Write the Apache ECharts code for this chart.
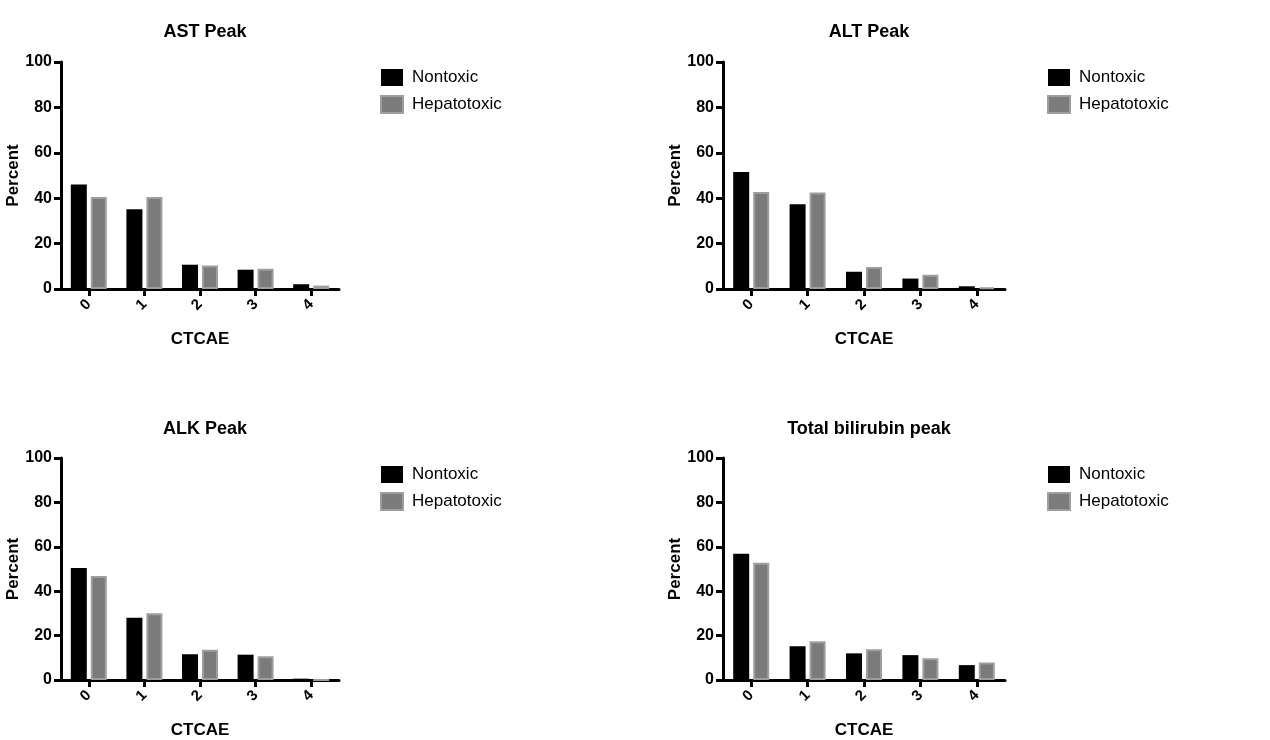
<!DOCTYPE html>
<html>
<head>
<meta charset="utf-8">
<script src="https://cdn.jsdelivr.net/npm/echarts@6/dist/echarts.min.js"></script>
<style>
html,body{margin:0;padding:0;background:#fff;}
#chart{width:1270px;height:740px;}
</style>
</head>
<body>
<div id="chart"></div>
<script>
// ---- data ----
const categories = ['0', '1', '2', '3', '4'];
const seriesNames = ['Nontoxic', 'Hepatotoxic'];
const panelTitles = ['AST Peak', 'ALT Peak', 'ALK Peak', 'Total bilirubin peak'];
const yTicks = [0, 20, 40, 60, 80, 100];

const astNontoxic = [46.0, 35.1, 10.7, 8.5, 2.1];
const astHepatotoxic = [40.5, 40.5, 10.3, 8.9, 1.5];
const altNontoxic = [51.5, 37.3, 7.6, 4.6, 1.2];
const altHepatotoxic = [42.7, 42.5, 9.7, 6.3, 0.7];
const alkNontoxic = [50.5, 28.0, 11.6, 11.4, 0.6];
const alkHepatotoxic = [46.8, 30.1, 13.6, 10.7, 0];
const biliNontoxic = [56.9, 15.2, 12.0, 11.2, 6.7];
const biliHepatotoxic = [52.8, 17.5, 13.8, 9.8, 7.9];

const panelData = [
  [astNontoxic, astHepatotoxic],
  [altNontoxic, altHepatotoxic],
  [alkNontoxic, alkHepatotoxic],
  [biliNontoxic, biliHepatotoxic]
];

// ---- layout ----
const FONT = '"Liberation Sans", Arial, Helvetica, sans-serif';
const grids = [
  {left: 61, top: 62, width: 278, height: 227},
  {left: 723, top: 62, width: 282, height: 227},
  {left: 61, top: 458, width: 278, height: 227},
  {left: 723, top: 458, width: 282, height: 227}
];
const legendPos = [
  {left: 380, top: 69},
  {left: 1047, top: 69},
  {left: 380, top: 466},
  {left: 1047, top: 466}
];
const titleTop = [18, 18, 415, 415];

const colors = ['#000000', '#7b7b7b'];

const option = {
  backgroundColor: '#ffffff',
  animation: false,
  title: grids.map((g, i) => ({
    text: panelTitles[i],
    left: g.left + g.width / 2,
    top: titleTop[i],
    textAlign: 'center',
    textStyle: {fontFamily: FONT, fontWeight: 'bold', fontSize: 18, color: '#000'}
  })),
  legend: grids.map((g, i) => ({
    data: seriesNames,
    orient: 'vertical',
    left: legendPos[i].left,
    top: legendPos[i].top,
    padding: 0,
    itemWidth: 22,
    itemHeight: 17,
    itemGap: 9,
    icon: 'rect',
    selectedMode: false,
    textStyle: {fontFamily: FONT, fontSize: 17, color: '#000', padding: [0, 0, 0, 4]}
  })),
  grid: grids.map(g => Object.assign({containLabel: false}, g)),
  xAxis: grids.map((g, i) => ({
    type: 'category',
    gridIndex: i,
    data: categories,
    name: 'CTCAE',
    nameLocation: 'middle',
    nameGap: 42,
    nameTextStyle: {fontFamily: FONT, fontWeight: 'bold', fontSize: 17, color: '#000'},
    axisLine: {show: true, lineStyle: {color: '#000', width: 3}},
    axisTick: {show: true, alignWithLabel: true, length: 7, lineStyle: {color: '#000', width: 3}},
    axisLabel: {rotate: 45, margin: 13, fontFamily: FONT, fontWeight: 'bold', fontSize: 15, color: '#000'},
    splitLine: {show: false}
  })),
  yAxis: grids.map((g, i) => ({
    type: 'value',
    gridIndex: i,
    min: yTicks[0],
    max: yTicks[yTicks.length - 1],
    interval: yTicks[1] - yTicks[0],
    name: 'Percent',
    nameLocation: 'middle',
    nameRotate: 90,
    nameGap: 37,
    nameTextStyle: {fontFamily: FONT, fontWeight: 'bold', fontSize: 17, color: '#000'},
    axisLine: {show: true, lineStyle: {color: '#000', width: 3}},
    axisTick: {show: true, inside: false, length: 7, lineStyle: {color: '#000', width: 3}},
    axisLabel: {margin: 9, fontFamily: FONT, fontWeight: 'bold', fontSize: 16, color: '#000'},
    splitLine: {show: false}
  })),
  series: []
};

panelData.forEach((pair, i) => {
  pair.forEach((vals, s) => {
    option.series.push({
      type: 'bar',
      name: seriesNames[s],
      xAxisIndex: i,
      yAxisIndex: i,
      data: vals,
      barWidth: 16,
      barGap: '25%',
      itemStyle: s === 0
        ? {color: colors[0]}
        : {color: colors[1], borderColor: '#9e9e9e', borderWidth: 2}
    });
  });
});

const chart = echarts.init(document.getElementById('chart'), null, {renderer: 'canvas'});
chart.setOption(option);
</script>
</body>
</html>
